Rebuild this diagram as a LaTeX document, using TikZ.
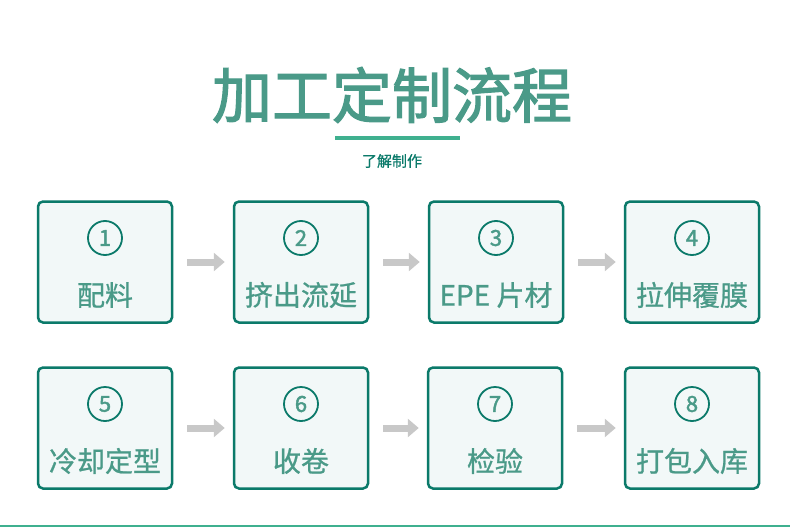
\documentclass[tikz,border=0pt]{standalone}
\usepackage{fontspec}
\newfontfamily\cjk{Noto Sans CJK SC}
\newfontfamily\cjkb[FakeBold=2]{Noto Sans CJK SC}
\newfontfamily\cjkm[FakeBold=0.8]{Noto Sans CJK SC}
\usepackage{tikz}
\usetikzlibrary{positioning,arrows.meta}
\definecolor{myteal}{HTML}{0B7A6A}
\definecolor{mytext}{HTML}{4A9A88}
\definecolor{myfill}{HTML}{F2F8F8}
\definecolor{mybar}{HTML}{3FB08F}
\definecolor{mygray}{HTML}{C8C8C8}

\tikzset{
  stepbox/.style={draw=myteal, line width=2.5pt, fill=myfill, rounded corners=5pt,
    minimum width=134pt, minimum height=121pt},
  num/.style={circle, draw=myteal, line width=1.8pt, minimum size=34pt, inner sep=0pt,
    text=mytext, font=\cjkb\fontsize{22}{22}\selectfont},
  lbl/.style={text=mytext, font=\cjkm\fontsize{28}{30}\selectfont, inner sep=0pt},
  fat/.style={mygray, line width=7pt, -{Triangle[length=11pt,width=18pt]}}
}

\begin{document}
\begin{tikzpicture}[x=1pt,y=-1pt]
\useasboundingbox (0,0) rectangle (790,530);

\node[text=mytext, font=\cjkb\fontsize{60}{62}\selectfont] (title) at (392,95) {加工定制流程};
\draw[mybar, line width=3.5pt] (335,138) -- (460,138);
\node[text=myteal, font=\cjkm\fontsize{15}{16}\selectfont] (sub) at (392,161) {了解制作};

% row one
\node[stepbox] (b1) at (105,262) {};
\node[stepbox] (b2) at (301,262) {};
\node[stepbox] (b3) at (496,262) {};
\node[stepbox] (b4) at (692,262) {};
% row two
\node[stepbox] (b5) at (105,428) {};
\node[stepbox] (b6) at (301,428) {};
\node[stepbox] (b7) at (495,428) {};
\node[stepbox] (b8) at (692,428) {};

\foreach \i/\t in {1/配料,2/挤出流延,3/EPE 片材,4/拉伸覆膜,5/冷却定型,6/收卷,7/检验,8/打包入库}{
  \node[num] (n\i) at ([yshift=24pt]b\i.center) {\i};
  \node[lbl] (t\i) at ([yshift=-33pt]b\i.center) {\t};
}

\foreach \a/\b in {1/2,2/3,3/4,5/6,6/7,7/8}{
  \draw[fat] ([xshift=14pt]b\a.east) -- ([xshift=-8pt]b\b.west);
}

\draw[mybar, line width=2pt] (0,526) -- (790,526);
\end{tikzpicture}
\end{document}
